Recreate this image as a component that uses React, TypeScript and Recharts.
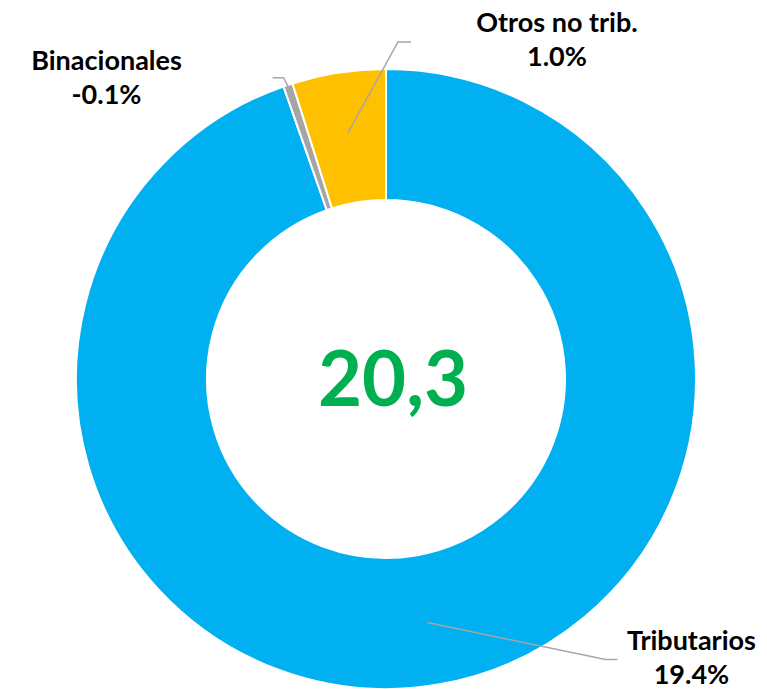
import { PieChart, Pie, Cell, Label } from "recharts";

// Composition of the 20,3 total (shares in %)
const names = ["Tributarios", "Binacionales", "Otros no trib."];
const values = [19.4, -0.1, 1.0];
const COLORS = ["#00B0F0", "#A5A5A5", "#FFC000"];
const TOTAL_LABEL = "20,3";

// leader line / label placement, relative to the anchor on the slice
const labelLayout = [
  { r: 247, elbow: [178, 37], tail: 12, text: [74, -9] },
  { r: 305, elbow: [-6, -12], tail: -11, text: [-166, -8] },
  { r: 249, elbow: [50, -91], tail: 13, text: [146, -10] },
];

const pieData = names.map((name, i) => ({
  name,
  value: Math.abs(values[i]),
  shown: values[i],
}));

const RADIAN = Math.PI / 180;
const FONT = "Lato, 'Open Sans', sans-serif";

const renderLabel = (props: any) => {
  const { cx, cy, midAngle, index } = props;
  const l = labelLayout[index];
  const ax = cx + l.r * Math.cos(-midAngle * RADIAN);
  const ay = cy + l.r * Math.sin(-midAngle * RADIAN);
  const ex = ax + l.elbow[0];
  const ey = ay + l.elbow[1];
  const tx = ex + l.tail;
  const lx = tx + l.text[0];
  const ly = ey + l.text[1];
  return (
    <g>
      <polyline
        points={`${ax},${ay} ${ex},${ey} ${tx},${ey}`}
        fill="none"
        stroke="#A6A6A6"
        strokeWidth={1.5}
      />
      <text
        x={lx}
        y={ly}
        textAnchor="middle"
        fontFamily={FONT}
        fontWeight="bold"
        fontSize={27}
        fill="#000"
      >
        <tspan x={lx} dy={0}>{names[index]}</tspan>
        <tspan x={lx} dy={34}>{values[index].toFixed(1)}%</tspan>
      </text>
    </g>
  );
};

const App = () => {
  return (
    <div style={{ position: "absolute", left: 0, top: 0, background: "#fff" }}>
      <PieChart
        width={767}
        height={689}
        margin={{ top: 0, right: 0, bottom: 0, left: 0 }}
      >
        <Pie
          data={pieData}
          dataKey="value"
          cx={386}
          cy={379}
          innerRadius={179}
          outerRadius={310}
          startAngle={90}
          endAngle={-270}
          stroke="#fff"
          strokeWidth={2}
          label={renderLabel}
          labelLine={false}
          isAnimationActive={false}
        >
          {pieData.map((_, index) => (
            <Cell key={`cell-${index}`} fill={COLORS[index]} />
          ))}
          <Label
            position="center"
            content={(p: any) => {
              const vb = p.viewBox || {};
              return (
                <text
                  x={(vb.cx ?? 386) + 7}
                  y={(vb.cy ?? 379) - 3}
                  textAnchor="middle"
                  dominantBaseline="central"
                  fontFamily={FONT}
                  fontWeight="bold"
                  fontSize={76}
                  fill="#00B050"
                >
                  {TOTAL_LABEL}
                </text>
              );
            }}
          />
        </Pie>
      </PieChart>
    </div>
  );
};

export default App;
